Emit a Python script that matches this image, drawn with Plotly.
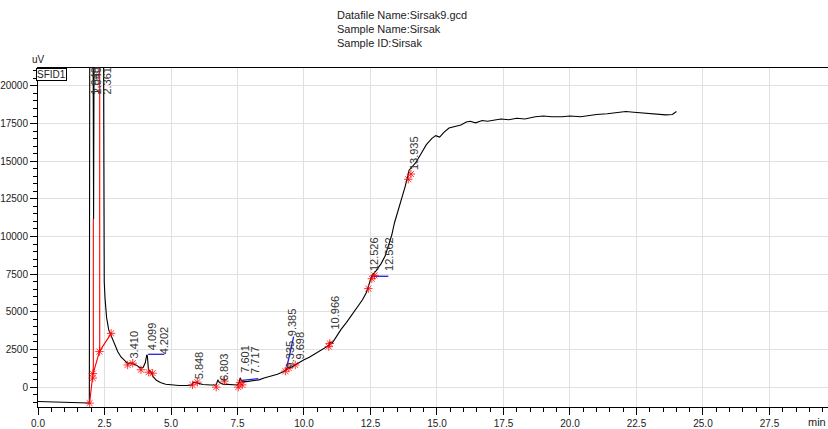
import plotly.graph_objects as go

# Chromatogram signal (time in min, signal in uV)
time_min = [0.0, 1.0, 1.90, 1.93, 1.95, 2.06, 2.09, 2.12, 2.45, 2.47, 2.49, 2.52, 2.58, 2.66,
            2.75, 2.87, 3.00, 3.12, 3.25, 3.38, 3.47, 3.56, 3.70, 3.85, 3.95, 4.03, 4.09,
            4.11, 4.15, 4.20, 4.25, 4.33, 4.45, 4.60, 4.80, 5.00, 5.30, 5.60, 5.78, 5.85,
            5.92, 6.00, 6.20, 6.50, 6.70, 6.76, 6.82, 6.95, 7.20, 7.50, 7.56, 7.60, 7.65,
            7.72, 7.90, 8.10, 8.30, 8.50, 8.80, 9.00, 9.20, 9.33, 9.38, 9.45, 9.55, 9.70,
            9.85, 10.0, 10.2, 10.4, 10.6, 10.8, 10.95, 10.98, 11.05, 11.2, 11.4, 11.6,
            11.8, 12.0, 12.2, 12.35, 12.45, 12.55, 12.7, 12.9, 13.05, 13.2, 13.3, 13.4,
            13.5, 13.6, 13.7, 13.8, 13.9, 13.95, 14.05, 14.2, 14.4, 14.6, 14.8, 14.95,
            15.1, 15.25, 15.45, 15.7, 15.9, 16.1, 16.25, 16.45, 16.7, 16.9, 17.1, 17.4,
            17.7, 18.0, 18.3, 18.7, 19.0, 19.3, 19.7, 20.0, 20.4, 20.7, 21.0, 21.4, 21.8,
            22.1, 22.4, 22.7, 23.0, 23.3, 23.6, 23.85, 24.0]
signal_uv = [-950, -980, -1050, -1060, 30000, 30000, 11170, 30000, 30000, 9000, 7000, 5900,
             4600, 3800, 3400, 2800, 2350, 2000, 1780, 1560, 1620, 1560, 1460, 1280, 1300,
             1600, 2150, 2100, 1200, 1050, 1000, 700, 450, 300, 190, 140, 110, 110, 140,
             330, 300, 220, 170, 140, 150, 480, 300, 200, 150, 140, 300, 620, 420, 350,
             380, 420, 480, 600, 720, 850, 1000, 1150, 1300, 1250, 1350, 1500, 1700, 1820,
             1980, 2200, 2400, 2600, 2780, 3000, 2900, 3300, 3850, 4300, 4800, 5250, 5800,
             6300, 6800, 7400, 7700, 8200, 8700, 9500, 10100, 10900, 11500, 12000, 12700,
             13300, 14000, 14400, 14600, 14900, 15500, 16100, 16500, 16700, 16600, 16900,
             17200, 17300, 17400, 17600, 17650, 17550, 17700, 17650, 17700, 17800, 17750,
             17850, 17800, 17950, 18000, 17950, 17950, 18000, 17950, 18050, 18100, 18150,
             18250, 18300, 18250, 18200, 18150, 18100, 18080, 18100, 18300]

# Integration baseline under the solvent peaks and drop lines
base_t = [1.94, 2.06, 2.31, 2.75]
base_v = [-1060, 810, 2360, 3570]
drop_t = [2.08, 2.32]
drop_top = [11170, 30000]
drop_bottom = [900, 2360]

# Peak start / end marks
mark_t = [1.94, 2.06, 2.06, 2.31, 2.75, 3.37, 3.56, 3.87, 4.16, 4.31, 5.81, 5.99, 6.70, 7.01,
          7.53, 7.60, 7.68, 9.30, 9.43, 9.67, 10.93, 10.97, 12.42, 12.55, 12.65, 13.92, 14.02]
mark_v = [-1060, 600, 900, 2360, 3570, 1470, 1590, 1150, 990, 925, 150, 330, 0, 400,
          0, 300, 150, 1060, 1260, 1470, 2690, 2900, 6540, 7200, 7420, 13800, 14150]

# Tangent skim lines
skim_segments = [
    ([4.14, 4.75], [2180, 2180]),
    ([7.68, 8.28], [450, 560]),
    ([9.36, 9.61], [1370, 3350]),
    ([12.55, 13.17], [7360, 7360]),
]

# Retention time labels and where they sit
peak_labels = ["1.949", "2.040", "2.361", "3.410", "4.099", "4.202", "5.848", "6.803", "7.601",
               "7.717", "9.335", "9.385", "9.698", "10.966", "12.526", "12.562", "13.935"]
label_t = [2.15, 2.25, 2.60, 3.62, 4.28, 4.74, 6.06, 6.99, 7.78, 8.15, 9.49, 9.55, 9.86,
           11.17, 12.61, 13.17, 14.11]
label_v = [19300, 19300, 19300, 1785, 2310, 2050, 400, 265, 820, 730, 1140, 3250, 1720,
           3700, 7600, 7600, 14300]

header_lines = ["Datafile Name:Sirsak9.gcd", "Sample Name:Sirsak", "Sample ID:Sirsak"]

PLOT_LEFT, PLOT_TOP, PLOT_W = 35, 68, 793
FONT = "Liberation Sans, Arial"

fig = go.Figure()

fig.add_trace(go.Scatter(x=time_min, y=signal_uv, mode="lines",
                         line=dict(color="black", width=1.1), showlegend=False))

fig.add_trace(go.Scatter(x=base_t, y=base_v, mode="lines",
                         line=dict(color="red", width=1.1), showlegend=False))
for t, v0, v1 in zip(drop_t, drop_top, drop_bottom):
    fig.add_trace(go.Scatter(x=[t, t], y=[v0, v1], mode="lines",
                             line=dict(color="red", width=1.1), showlegend=False))

for xs, ys in skim_segments:
    fig.add_trace(go.Scatter(x=xs, y=ys, mode="lines",
                             line=dict(color="#2020e0", width=1.3), showlegend=False))

fig.add_trace(go.Scatter(x=mark_t, y=mark_v, mode="markers",
                         marker=dict(symbol="asterisk-open", size=7, color="red",
                                     line=dict(color="red", width=0.8)),
                         showlegend=False))

for txt, t, v in zip(peak_labels, label_t, label_v):
    fig.add_annotation(x=t, y=v, text=txt, textangle=-90, showarrow=False,
                       xanchor="center", yanchor="bottom",
                       font=dict(family=FONT, size=11, color="#333333"))

# Header block, one line every 14 px starting 15 px from the top
for i, line in enumerate(header_lines):
    fig.add_annotation(xref="paper", yref="paper", x=(333 - PLOT_LEFT) / PLOT_W, y=1,
                       yshift=PLOT_TOP - (15 + 14 * i),
                       text=line, showarrow=False, xanchor="left", yanchor="middle",
                       font=dict(family=FONT, size=11, color="#222222"))

fig.add_annotation(xref="paper", yref="paper", x=0, y=1, yshift=1, text="uV",
                   showarrow=False, xanchor="center", yanchor="bottom",
                   font=dict(family=FONT, size=10, color="#222222"))
fig.add_annotation(xref="paper", yref="paper", x=-2 / PLOT_W, y=1, text="SFID1",
                   showarrow=False, xanchor="left", yanchor="top",
                   bordercolor="black", borderwidth=1, borderpad=0, bgcolor="white",
                   font=dict(family=FONT, size=10, color="#222222"))
fig.add_annotation(xref="paper", yref="paper", x=1, y=0, yshift=-15,
                   text="min", showarrow=False, xanchor="right", yanchor="middle",
                   font=dict(family=FONT, size=11, color="#222222"))

axis_font = dict(family=FONT, size=10, color="#222222")
fig.update_xaxes(range=[0, 29.7], tick0=0, dtick=2.5, tickformat=".1f",
                 showline=True, linecolor="black", linewidth=1, mirror=True,
                 ticks="outside", ticklen=7, tickcolor="black",
                 showgrid=True, gridcolor="#e0e0e0", gridwidth=1, zeroline=False,
                 minor=dict(dtick=0.5, ticks="outside", ticklen=4, tickcolor="black",
                            showgrid=False),
                 tickfont=axis_font)
fig.update_yaxes(range=[-1320, 21190], tick0=0, dtick=2500, tickformat="d",
                 showline=True, linecolor="black", linewidth=1,
                 ticks="outside", ticklen=7, tickcolor="black",
                 showgrid=True, gridcolor="#e0e0e0", gridwidth=1, zeroline=False,
                 minor=dict(dtick=500, ticks="outside", ticklen=4, tickcolor="black",
                            showgrid=False),
                 tickfont=axis_font)

fig.update_layout(width=828, height=429, margin=dict(l=35, r=0, t=68, b=20),
                  plot_bgcolor="white", paper_bgcolor="white")

fig.write_html("out.html")
